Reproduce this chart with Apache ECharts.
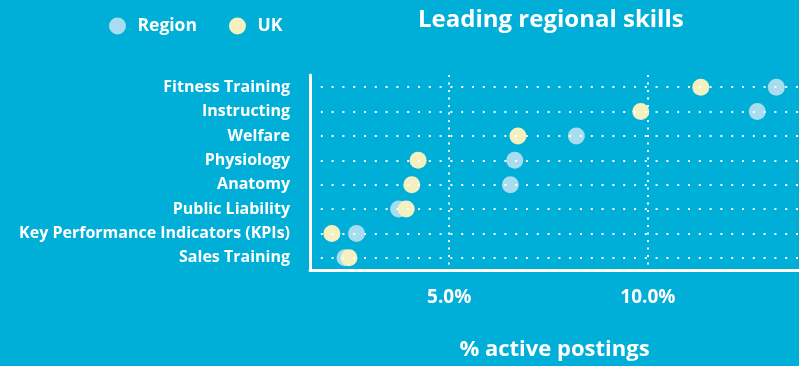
<!DOCTYPE html>
<html>
<head>
<meta charset="utf-8">
<script src="https://cdn.jsdelivr.net/npm/echarts@6/dist/echarts.min.js"></script>
<style>
  html, body { margin: 0; padding: 0; background: #00afd8; }
  #chart { width: 799px; height: 366px; }
</style>
</head>
<body>
<div id="chart"></div>
<script>
// 技能类别（从上到下）
const skills = [
  'Fitness Training',
  'Instructing',
  'Welfare',
  'Physiology',
  'Anatomy',
  'Public Liability',
  'Key Performance Indicators (KPIs)',
  'Sales Training'
];
// % active postings
const regionVals = [13.23, 12.75, 8.2, 6.65, 6.54, 3.73, 2.67, 2.38];
const ukVals = [11.33, 9.82, 6.73, 4.22, 4.06, 3.92, 2.05, 2.48];
const tickVals = [5, 10];

const font = '"Open Sans", "Noto Sans", sans-serif';

const chart = echarts.init(document.getElementById('chart'));
chart.setOption({
  backgroundColor: '#00afd8',
  animation: false,
  title: {
    text: 'Leading regional skills',
    left: 413,
    top: 3,
    textStyle: { color: '#fff', fontSize: 24, fontWeight: 700, fontFamily: font }
  },
  legend: {
    data: ['Region', 'UK'],
    left: 104,
    top: 12,
    icon: 'circle',
    itemWidth: 30,
    itemHeight: 17,
    itemGap: 32,
    textStyle: { color: '#fff', fontSize: 17.5, fontWeight: 700, fontFamily: font }
  },
  grid: { left: 310, right: 0, top: 75, bottom: 90 },
  xAxis: {
    type: 'value',
    min: 1.5,
    max: 13.8,
    name: '% active postings',
    nameLocation: 'middle',
    nameGap: 69,
    nameTextStyle: { color: '#fff', fontSize: 22, fontWeight: 700, fontFamily: font },
    axisLine: { show: true, lineStyle: { color: '#fff', width: 3 } },
    axisTick: { show: false, customValues: tickVals },
    axisLabel: {
      customValues: tickVals,
      color: '#fff',
      fontSize: 19,
      fontWeight: 700,
      fontFamily: font,
      margin: 18,
      formatter: v => v.toFixed(1) + '%'
    },
    splitLine: { show: true, lineStyle: { color: '#fff', width: 2, type: [2, 5.5] } }
  },
  yAxis: {
    type: 'category',
    data: skills,
    inverse: true,
    axisLine: { show: true, lineStyle: { color: '#fff', width: 3 } },
    axisTick: { show: false },
    axisLabel: { color: '#fff', fontSize: 16, fontWeight: 700, fontFamily: font, margin: 20 },
    splitLine: { show: false }
  },
  series: [
    {
      // 横向点线
      type: 'line',
      data: [],
      z: 1,
      silent: true,
      markLine: {
        silent: true,
        symbol: 'none',
        label: { show: false },
        lineStyle: { color: '#fff', width: 2, type: [2, 8.8], opacity: 1 },
        data: skills.map(s => ({ yAxis: s }))
      }
    },
    {
      name: 'Region',
      type: 'scatter',
      z: 3,
      symbolSize: 17,
      itemStyle: { color: '#a8dcef', opacity: 1 },
      data: skills.map((s, i) => [regionVals[i], s])
    },
    {
      name: 'UK',
      type: 'scatter',
      z: 4,
      symbolSize: 17,
      itemStyle: { color: '#f5f0c0', opacity: 1 },
      data: skills.map((s, i) => [ukVals[i], s])
    }
  ]
});
</script>
</body>
</html>
